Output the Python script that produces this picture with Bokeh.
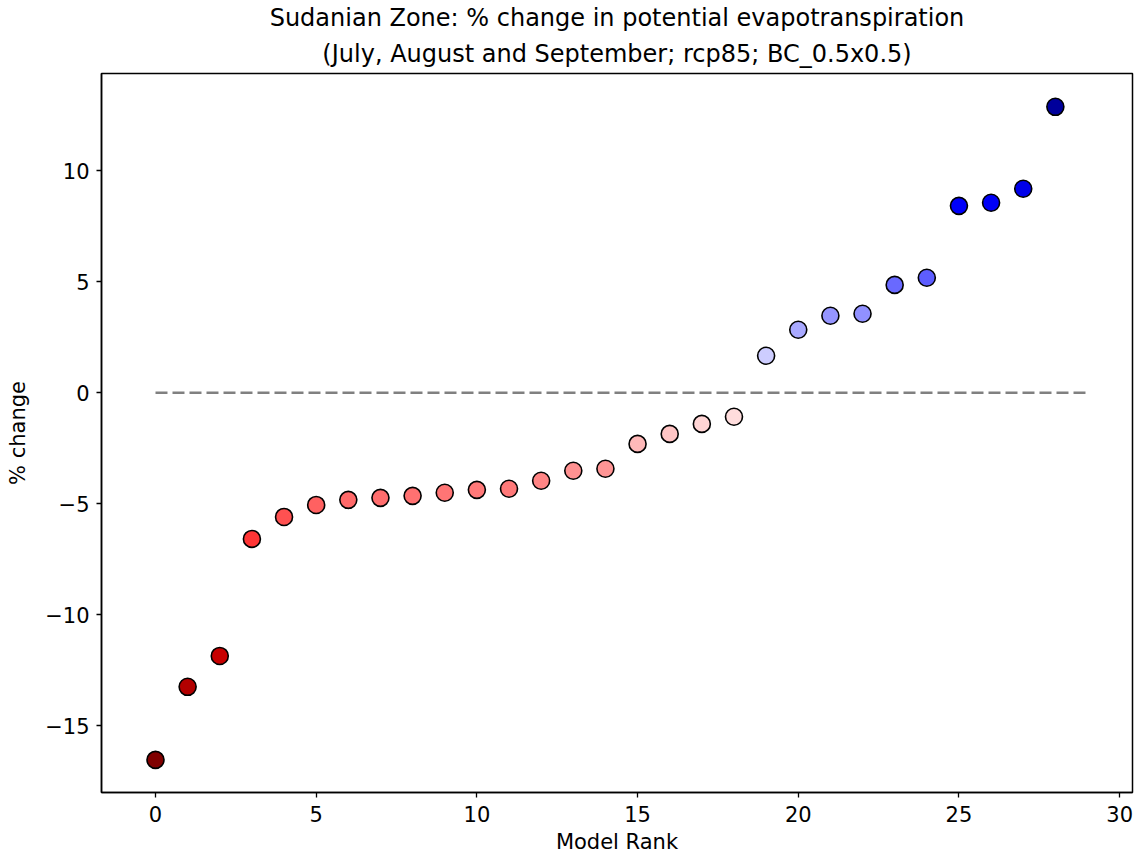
import numpy as np
from bokeh.plotting import figure
from bokeh.models import Title, Range1d, FixedTicker, ColumnDataSource
from bokeh.transform import linear_cmap
from bokeh.embed import file_html
from bokeh.resources import INLINE

# ---- data ----
model_rank = list(range(29))
pct_change = [-16.53, -13.24, -11.85, -6.58, -5.59, -5.05, -4.82, -4.73, -4.64, -4.50,
              -4.37, -4.32, -3.96, -3.51, -3.42, -2.30, -1.85, -1.40, -1.08, 1.67,
              2.84, 3.47, 3.56, 4.86, 5.18, 8.42, 8.56, 9.19, 12.88]
title_line1 = "Sudanian Zone: % change in potential evapotranspiration"
title_line2 = "(July, August and September; rcp85; BC_0.5x0.5)"
x_ticks = [0, 5, 10, 15, 20, 25, 30]
y_ticks = [-15, -10, -5, 0, 5, 10]
zero_line_x = [0, 29]
zero_line_y = [0, 0]

# ---- reversed "seismic" palette ----
stops = [(0.0, (0.0, 0.0, 0.3)), (0.25, (0.0, 0.0, 1.0)), (0.5, (1.0, 1.0, 1.0)),
         (0.75, (1.0, 0.0, 0.0)), (1.0, (0.5, 0.0, 0.0))]
def seismic(t):
    for (t0, c0), (t1, c1) in zip(stops[:-1], stops[1:]):
        if t <= t1:
            f = (t - t0) / (t1 - t0)
            return tuple(c0[i] + f * (c1[i] - c0[i]) for i in range(3))
    return stops[-1][1]
palette = []
for i in range(256):
    r, g, b = seismic(1 - i / 255)
    palette.append("#%02x%02x%02x" % (round(r * 255), round(g * 255), round(b * 255)))
vmax = max(abs(v) for v in pct_change)

FONT = "DejaVu Sans"

p = figure(width=1135, height=859, output_backend="svg", toolbar_location=None,
           x_range=Range1d(-1.68, 30.40), y_range=Range1d(-18.0, 14.38),
           min_border_left=101, min_border_right=3, min_border_top=73, min_border_bottom=67,
           background_fill_color="white", border_fill_color="white")
p.title.visible = False
p.add_layout(Title(text=title_line2, align="center", text_font=FONT, text_font_size="24px",
                   text_font_style="normal", text_color="black", standoff=12), "above")
p.add_layout(Title(text=title_line1, align="center", text_font=FONT, text_font_size="24px",
                   text_font_style="normal", text_color="black", standoff=0), "above")

p.xgrid.visible = False
p.ygrid.visible = False
p.outline_line_color = "black"
p.outline_line_width = 1.5
p.outline_line_alpha = 1.0

for ax in (p.xaxis[0], p.yaxis[0]):
    ax.axis_line_color = "black"
    ax.axis_line_width = 1.5
    ax.major_tick_line_color = "black"
    ax.major_tick_line_width = 1.3
    ax.major_tick_out = 5
    ax.major_tick_in = 0
    ax.minor_tick_line_color = None
    ax.major_label_text_font = FONT
    ax.major_label_text_font_size = "21px"
    ax.major_label_text_color = "black"
    ax.axis_label_text_font = FONT
    ax.axis_label_text_font_size = "21px"
    ax.axis_label_text_font_style = "normal"
    ax.axis_label_text_color = "black"

p.xaxis.ticker = FixedTicker(ticks=x_ticks)
p.yaxis.ticker = FixedTicker(ticks=y_ticks)
p.yaxis.major_label_overrides = {t: ("\u2212" + str(-t) if t < 0 else str(t)) for t in y_ticks}
p.xaxis.axis_label = "Model Rank"
p.yaxis.axis_label = "% change"
p.xaxis.major_label_standoff = 8
p.yaxis.major_label_standoff = 7
p.xaxis.axis_label_standoff = 5
p.yaxis.axis_label_standoff = 12

p.line(zero_line_x, zero_line_y, line_color="grey", line_width=2.6, line_dash="12 5")

src = ColumnDataSource(dict(x=model_rank, y=pct_change))
p.scatter("x", "y", source=src, size=17, marker="circle",
          fill_color=linear_cmap("y", palette, -vmax, vmax),
          line_color="black", line_width=1.6)

open("out.html", "w").write(file_html(p, INLINE))
